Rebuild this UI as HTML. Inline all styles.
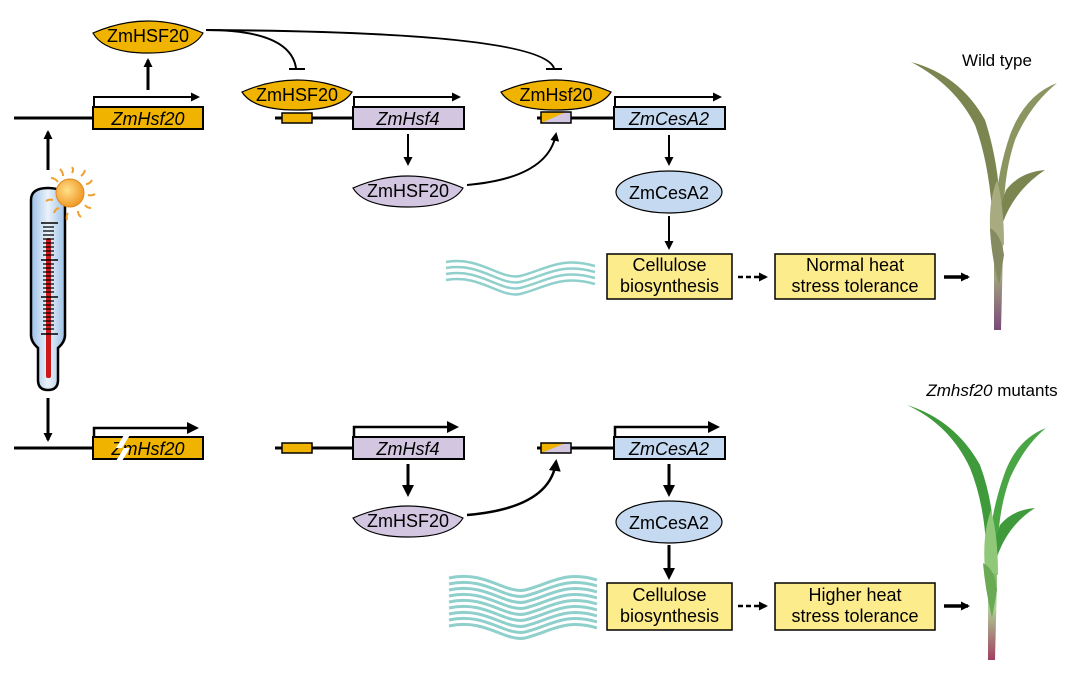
<!DOCTYPE html>
<html><head><meta charset="utf-8"><style>html,body{margin:0;padding:0;background:#fff}svg{display:block}text{font-family:"Liberation Sans",Arial,sans-serif}</style></head>
<body>
<svg width="1078" height="684" viewBox="0 0 1078 684" xmlns="http://www.w3.org/2000/svg">
<defs>
<marker id="ah" markerWidth="9" markerHeight="9" refX="7" refY="4.5" orient="auto" markerUnits="userSpaceOnUse"><path d="M0,0 L9,4.5 L0,9 Z" fill="#000"/></marker>
<marker id="ah2" markerWidth="12" markerHeight="12" refX="9" refY="6" orient="auto" markerUnits="userSpaceOnUse"><path d="M0,0 L12,6 L0,12 Z" fill="#000"/></marker>
<linearGradient id="therm" x1="0" x2="1"><stop offset="0" stop-color="#9cc0e6"/><stop offset="0.5" stop-color="#eaf2fb"/><stop offset="1" stop-color="#9cc0e6"/></linearGradient>
<radialGradient id="sun" cx="0.4" cy="0.4" r="0.6"><stop offset="0" stop-color="#ffe08a"/><stop offset="1" stop-color="#f09a28"/></radialGradient>
<linearGradient id="wtstem" x1="0" y1="0" x2="0" y2="1"><stop offset="0" stop-color="#8a9060"/><stop offset="0.6" stop-color="#a0a080"/><stop offset="1" stop-color="#7a4a78"/></linearGradient>
<linearGradient id="mstem" x1="0" y1="0" x2="0" y2="1"><stop offset="0" stop-color="#3f9a3a"/><stop offset="0.6" stop-color="#b0cf98"/><stop offset="1" stop-color="#a04060"/></linearGradient>
<clipPath id="sm1"><rect x="541" y="112" width="30" height="11"/></clipPath>
<clipPath id="sm2"><rect x="541" y="443" width="30" height="10"/></clipPath>
</defs>

<!-- ===== TOP ===== -->
<path d="M93,33 Q148,9 203,33 Q192,53 148,53 Q104,53 93,33 Z" fill="#F0B400" stroke="#000" stroke-width="1.2"/>
<text x="148" y="42" font-size="18" text-anchor="middle">ZmHSF20</text>
<line x1="148" y1="90" x2="148" y2="60" stroke="#000" stroke-width="3" marker-end="url(#ah)"/>
<line x1="14" y1="118" x2="92" y2="118" stroke="#000" stroke-width="3"/>
<rect x="93" y="107" width="110" height="22" fill="#F0B400" stroke="#000" stroke-width="2"/>
<text x="148" y="125" font-size="18" font-style="italic" text-anchor="middle">ZmHsf20</text>
<path d="M94,106 V97 H198" fill="none" stroke="#000" stroke-width="2" marker-end="url(#ah)"/>
<line x1="48" y1="170" x2="48" y2="132" stroke="#000" stroke-width="3" marker-end="url(#ah)"/>

<path d="M206,30 Q290,30 296,68" fill="none" stroke="#000" stroke-width="2"/>
<line x1="289" y1="69" x2="305" y2="69" stroke="#000" stroke-width="2"/>
<path d="M206,30 Q540,32 554,68" fill="none" stroke="#000" stroke-width="2"/>
<line x1="546" y1="69" x2="562" y2="69" stroke="#000" stroke-width="2"/>

<path d="M242,92 Q297,68 352,92 Q341,110 297,110 Q253,110 242,92 Z" fill="#F0B400" stroke="#000" stroke-width="1.2"/>
<text x="297" y="101" font-size="18" text-anchor="middle">ZmHSF20</text>
<line x1="275" y1="118" x2="353" y2="118" stroke="#000" stroke-width="3"/>
<rect x="282" y="113" width="30" height="10" fill="#F0B400" stroke="#000" stroke-width="1.5"/>
<rect x="353" y="107" width="111" height="22" fill="#D2C6E0" stroke="#000" stroke-width="2"/>
<text x="408" y="125" font-size="18" font-style="italic" text-anchor="middle">ZmHsf4</text>
<path d="M354,106 V97 H459" fill="none" stroke="#000" stroke-width="2" marker-end="url(#ah)"/>
<line x1="408" y1="134" x2="408" y2="164" stroke="#000" stroke-width="2" marker-end="url(#ah)"/>
<path d="M353,188 Q408,164 463,188 Q452,207 408,207 Q364,207 353,188 Z" fill="#D2C6E0" stroke="#000" stroke-width="1.2"/>
<text x="408" y="197" font-size="18" text-anchor="middle">ZmHSF20</text>
<path d="M467,185 Q548,178 556,134" fill="none" stroke="#000" stroke-width="2" marker-end="url(#ah)"/>

<path d="M501,92 Q556,68 611,92 Q600,110 556,110 Q512,110 501,92 Z" fill="#F0B400" stroke="#000" stroke-width="1.2"/>
<text x="556" y="101" font-size="18" text-anchor="middle">ZmHsf20</text>
<line x1="537" y1="118" x2="614" y2="118" stroke="#000" stroke-width="3"/>
<g clip-path="url(#sm1)"><rect x="541" y="112" width="30" height="11" fill="#D2C6E0"/><path d="M541,112 H566 L541,123 Z" fill="#F0B400"/></g>
<rect x="541" y="112" width="30" height="11" fill="none" stroke="#000" stroke-width="1.5"/>
<rect x="614" y="107" width="111" height="22" fill="#C5DAF0" stroke="#000" stroke-width="2"/>
<text x="669" y="125" font-size="18" font-style="italic" text-anchor="middle">ZmCesA2</text>
<path d="M615,106 V97 H720" fill="none" stroke="#000" stroke-width="2" marker-end="url(#ah)"/>
<line x1="669" y1="135" x2="669" y2="164" stroke="#000" stroke-width="2" marker-end="url(#ah)"/>
<ellipse cx="669" cy="192" rx="53" ry="21" fill="#C5DAF0" stroke="#000" stroke-width="1.2"/>
<text x="669" y="199" font-size="18" text-anchor="middle">ZmCesA2</text>
<line x1="669" y1="216" x2="669" y2="248" stroke="#000" stroke-width="2" marker-end="url(#ah)"/>
<rect x="607" y="254" width="125" height="45" fill="#FCEC8C" stroke="#000" stroke-width="1.5"/>
<text x="669.5" y="271" font-size="18" text-anchor="middle">Cellulose</text>
<text x="669.5" y="292" font-size="18" text-anchor="middle">biosynthesis</text>
<line x1="738" y1="277" x2="766" y2="277" stroke="#000" stroke-width="2.5" stroke-dasharray="5,3" marker-end="url(#ah)"/>
<rect x="775" y="254" width="160" height="45" fill="#FCEC8C" stroke="#000" stroke-width="1.5"/>
<text x="855" y="271" font-size="18" text-anchor="middle">Normal heat</text>
<text x="855" y="292" font-size="18" text-anchor="middle">stress tolerance</text>
<line x1="944" y1="277" x2="968" y2="277" stroke="#000" stroke-width="3.5" marker-end="url(#ah)"/>

<g fill="none" stroke="#8FD0CC" stroke-width="2.5">
<path d="M446,262 C480,256 500,280 520,276 C545,270 560,256 595,266"/>
<path d="M446,268 C480,262 500,286 520,282 C545,276 560,262 595,272"/>
<path d="M446,274 C480,268 500,292 520,288 C545,282 560,268 595,278"/>
<path d="M446,280 C480,274 500,298 520,294 C545,288 560,274 595,284"/>
</g>

<!-- thermometer -->
<path d="M31,200 Q31,188 48,188 Q65,188 65,200 V335 Q65,342 58,348 V380 Q58,390 48,390 Q38,390 38,380 V348 Q31,342 31,335 Z" fill="url(#therm)" stroke="#000" stroke-width="2.5"/>
<rect x="46" y="238" width="5" height="140" fill="#cc1a1a" rx="2"/>
<g stroke="#000" stroke-width="1.6">
<line x1="41" y1="223" x2="58" y2="223"/><line x1="41" y1="260" x2="58" y2="260"/><line x1="41" y1="297" x2="58" y2="297"/><line x1="41" y1="334" x2="58" y2="334"/>
</g>
<g stroke="#000" stroke-width="1.3">
<path d="M43,227h11M43,231h11M43,235h11M43,239h11M43,243h11M43,247h11M43,251h11M43,255h11M43,264h11M43,268h11M43,272h11M43,276h11M43,280h11M43,284h11M43,288h11M43,292h11M43,301h11M43,305h11M43,309h11M43,313h11M43,317h11M43,321h11M43,325h11M43,329h11"/>
</g>
<g stroke="#f0a030" stroke-width="2" fill="none">
<path d="M58,182 q-3,-4 -7,-4 M63,176 q0,-4 -3,-7 M72,173 q2,-3 0,-6 M81,176 q3,-2 4,-6 M86,184 q4,0 6,-4 M88,195 q4,1 7,-1 M85,205 q2,3 6,3 M78,211 q0,4 3,6 M68,213 q-2,3 -1,7 M59,208 q-4,1 -5,5 M53,200 q-4,-1 -7,1"/>
</g>
<circle cx="70" cy="193" r="14" fill="url(#sun)" stroke="#e08a20" stroke-width="1"/>

<!-- wild type plant -->
<text x="997" y="66" font-size="17" text-anchor="middle">Wild type</text>
<path d="M994,330 L1001,330 L1003,250 L1001,200 L993,200 L994,250 Z" fill="url(#wtstem)"/>
<path d="M911,62 Q960,75 985,120 Q998,160 1000,205 L992,210 Q988,160 975,125 Q955,85 911,62 Z" fill="#7a8550"/>
<path d="M1057,83 Q1025,95 1010,135 Q998,170 996,205 L1004,205 Q1005,170 1015,140 Q1030,105 1057,83 Z" fill="#8a9560"/>
<path d="M1045,170 Q1020,172 1006,190 L996,220 L1003,222 Q1015,190 1045,170 Z" fill="#7a8550"/>
<path d="M991,240 Q987,205 997,180 Q1004,205 1004,245 Z" fill="#a8aa80"/>
<path d="M990,228 Q1001,234 1004,255 L999,285 Q991,255 990,228 Z" fill="#858a60"/>

<!-- ===== BOTTOM ===== -->
<line x1="48" y1="398" x2="48" y2="440" stroke="#000" stroke-width="3" marker-end="url(#ah)"/>
<line x1="14" y1="448" x2="92" y2="448" stroke="#000" stroke-width="3"/>
<rect x="93" y="437" width="110" height="22" fill="#F0B400" stroke="#000" stroke-width="2"/>
<text x="148" y="455" font-size="18" font-style="italic" text-anchor="middle">ZmHsf20</text>
<path d="M124,435 L116,448 L124,448 L116,461 L122,461 L130,448 L122,448 L130,435 Z" fill="#fff"/>
<path d="M94,436 V428 H196" fill="none" stroke="#000" stroke-width="2.5" marker-end="url(#ah2)"/>

<line x1="275" y1="448" x2="353" y2="448" stroke="#000" stroke-width="3"/>
<rect x="282" y="443" width="30" height="10" fill="#F0B400" stroke="#000" stroke-width="1.5"/>
<rect x="353" y="437" width="111" height="22" fill="#D2C6E0" stroke="#000" stroke-width="2"/>
<text x="408" y="455" font-size="18" font-style="italic" text-anchor="middle">ZmHsf4</text>
<path d="M354,436 V427 H456" fill="none" stroke="#000" stroke-width="2.5" marker-end="url(#ah2)"/>
<line x1="408" y1="464" x2="408" y2="494" stroke="#000" stroke-width="3" marker-end="url(#ah2)"/>
<path d="M353,518 Q408,494 463,518 Q452,537 408,537 Q364,537 353,518 Z" fill="#D2C6E0" stroke="#000" stroke-width="1.2"/>
<text x="408" y="527" font-size="18" text-anchor="middle">ZmHSF20</text>
<path d="M467,515 Q550,508 556,462" fill="none" stroke="#000" stroke-width="2.5" marker-end="url(#ah2)"/>

<line x1="537" y1="448" x2="614" y2="448" stroke="#000" stroke-width="3"/>
<g clip-path="url(#sm2)"><rect x="541" y="443" width="30" height="10" fill="#D2C6E0"/><path d="M541,443 H566 L541,453 Z" fill="#F0B400"/></g>
<rect x="541" y="443" width="30" height="10" fill="none" stroke="#000" stroke-width="1.5"/>
<rect x="614" y="437" width="111" height="22" fill="#C5DAF0" stroke="#000" stroke-width="2"/>
<text x="669" y="455" font-size="18" font-style="italic" text-anchor="middle">ZmCesA2</text>
<path d="M615,436 V427 H717" fill="none" stroke="#000" stroke-width="2.5" marker-end="url(#ah2)"/>
<line x1="669" y1="464" x2="669" y2="494" stroke="#000" stroke-width="3" marker-end="url(#ah2)"/>
<ellipse cx="669" cy="522" rx="53" ry="21" fill="#C5DAF0" stroke="#000" stroke-width="1.2"/>
<text x="669" y="529" font-size="18" text-anchor="middle">ZmCesA2</text>
<line x1="669" y1="545" x2="669" y2="577" stroke="#000" stroke-width="3" marker-end="url(#ah2)"/>
<rect x="607" y="583" width="125" height="47" fill="#FCEC8C" stroke="#000" stroke-width="1.5"/>
<text x="669.5" y="601" font-size="18" text-anchor="middle">Cellulose</text>
<text x="669.5" y="622" font-size="18" text-anchor="middle">biosynthesis</text>
<line x1="738" y1="606" x2="766" y2="606" stroke="#000" stroke-width="2.5" stroke-dasharray="5,3" marker-end="url(#ah)"/>
<rect x="775" y="583" width="160" height="47" fill="#FCEC8C" stroke="#000" stroke-width="1.5"/>
<text x="855" y="601" font-size="18" text-anchor="middle">Higher heat</text>
<text x="855" y="622" font-size="18" text-anchor="middle">stress tolerance</text>
<line x1="944" y1="606" x2="968" y2="606" stroke="#000" stroke-width="3.5" marker-end="url(#ah)"/>

<g fill="none" stroke="#8FD0CC" stroke-width="3">
<path d="M449,578 C485,570 505,594 525,590 C550,584 565,570 597,580"/>
<path d="M449,584 C485,576 505,600 525,596 C550,590 565,576 597,586"/>
<path d="M449,590 C485,582 505,606 525,602 C550,596 565,582 597,592"/>
<path d="M449,596 C485,588 505,612 525,608 C550,602 565,588 597,598"/>
<path d="M449,602 C485,594 505,618 525,614 C550,608 565,594 597,604"/>
<path d="M449,608 C485,600 505,624 525,620 C550,614 565,600 597,610"/>
<path d="M449,614 C485,606 505,630 525,626 C550,620 565,606 597,616"/>
<path d="M449,620 C485,612 505,636 525,632 C550,626 565,612 597,622"/>
<path d="M449,626 C485,618 505,642 525,638 C550,632 565,618 597,628"/>
</g>

<!-- mutant plant -->
<text x="992" y="396" font-size="17" text-anchor="middle"><tspan font-style="italic">Zmhsf20</tspan> mutants</text>
<path d="M988,660 L995,660 L997,580 L995,530 L987,530 L988,580 Z" fill="url(#mstem)"/>
<path d="M907,405 Q955,420 980,465 Q993,500 994,540 L986,543 Q983,500 970,468 Q950,425 907,405 Z" fill="#3e9a3a"/>
<path d="M1046,428 Q1015,440 1003,478 Q992,510 990,540 L998,540 Q1000,505 1010,478 Q1025,445 1046,428 Z" fill="#4aa545"/>
<path d="M1035,508 Q1012,510 1000,525 L990,555 L997,557 Q1008,525 1035,508 Z" fill="#3e9a3a"/>
<path d="M985,570 Q982,535 991,510 Q998,535 998,575 Z" fill="#8fc878"/>
<path d="M983,563 Q995,569 997,590 L992,618 Q985,588 983,563 Z" fill="#6aaa55"/>
</svg>
</body></html>
